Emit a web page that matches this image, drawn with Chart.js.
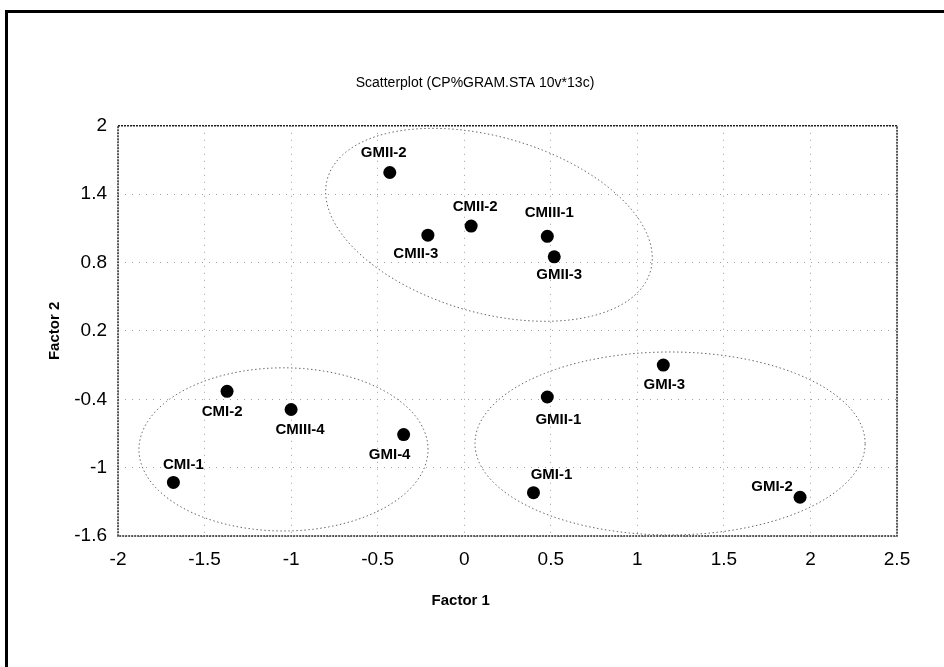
<!DOCTYPE html>
<html><head><meta charset="utf-8">
<script src="https://cdn.jsdelivr.net/npm/chart.js@4.4.1/dist/chart.umd.min.js"></script>
<style>html,body{margin:0;padding:0;background:#fff;} #wrap{width:944px;height:667px;}</style>
</head><body><div id="wrap"><canvas id="c" width="944" height="667"></canvas></div>
<script>
// ---- data ----
const pointNames = ['GMII-2','CMII-3','CMII-2','CMIII-1','GMII-3','GMI-3','GMII-1','GMI-1','GMI-2','CMI-2','CMIII-4','GMI-4','CMI-1'];
const factor1 = [-0.43,-0.21,0.04,0.48,0.52,1.15,0.48,0.40,1.94,-1.37,-1.00,-0.35,-1.68];
const factor2 = [1.59,1.04,1.12,1.03,0.85,-0.10,-0.38,-1.22,-1.26,-0.33,-0.49,-0.71,-1.13];
const xTicks = [-2,-1.5,-1,-0.5,0,0.5,1,1.5,2,2.5];
const yTicks = [-1.6,-1,-0.4,0.2,0.8,1.4,2];
// group ellipses in data units: centre, first and second semi-axis vectors
const ellipseCenters = [[0.143,1.131],[-1.044,-0.840],[1.189,-0.788]];
const ellipseAxisU = [[0.933,-0.406],[0.835,0],[1.127,0]];
const ellipseAxisV = [[-0.140,-0.743],[0,0.716],[0,0.803]];

// ---- styling (label offsets in px) ----
const labelOffsets = {
  'GMII-2':[-6,-20],'CMII-3':[-12,19],'CMII-2':[4,-19],'CMIII-1':[2,-23],'GMII-3':[5,18],
  'GMI-3':[1,20],'GMII-1':[11,23],'GMI-1':[18,-18],'GMI-2':[-28,-10],'CMI-2':[-5,21],
  'CMIII-4':[9,20],'GMI-4':[-14,20],'CMI-1':[10,-18]
};
const FAMILY = '"Liberation Sans", Arial, Helvetica, sans-serif';

const framePlugin = {
  id: 'frames',
  beforeDatasetsDraw(chart) {
    const {ctx} = chart;
    const xs = chart.scales.x, ys = chart.scales.y;
    ctx.save();
    ctx.strokeStyle = '#666';
    ctx.lineWidth = 1;
    ctx.setLineDash([1.5, 2.5]);
    for (let k = 0; k < ellipseCenters.length; k++) {
      const c = ellipseCenters[k], u = ellipseAxisU[k], v = ellipseAxisV[k];
      ctx.beginPath();
      for (let i = 0; i <= 180; i++) {
        const t = i / 180 * Math.PI * 2;
        const dx = c[0] + u[0] * Math.cos(t) + v[0] * Math.sin(t);
        const dy = c[1] + u[1] * Math.cos(t) + v[1] * Math.sin(t);
        const px = xs.getPixelForValue(dx), py = ys.getPixelForValue(dy);
        if (i === 0) ctx.moveTo(px, py); else ctx.lineTo(px, py);
      }
      ctx.closePath();
      ctx.stroke();
    }
    ctx.restore();
  },
  afterDatasetsDraw(chart) {
    const {ctx, chartArea: a} = chart;
    const meta = chart.getDatasetMeta(0);
    ctx.save();
    ctx.fillStyle = '#000';
    ctx.font = 'bold 15px ' + FAMILY;
    ctx.textAlign = 'center';
    ctx.textBaseline = 'middle';
    meta.data.forEach((el, i) => {
      const name = pointNames[i];
      const off = labelOffsets[name] || [0, -18];
      ctx.fillText(name, el.x + off[0], el.y + off[1]);
    });
    // plot frame
    ctx.strokeStyle = '#222';
    ctx.lineWidth = 1.5;
    ctx.setLineDash([2, 1]);
    ctx.strokeRect(a.left, a.top, a.right - a.left, a.bottom - a.top);
    ctx.setLineDash([]);
    // x axis title
    ctx.font = 'bold 15px ' + FAMILY;
    ctx.fillText('Factor 1', a.left + (a.right - a.left) * 0.44, 601);
    // outer frame
    ctx.lineWidth = 3;
    ctx.strokeStyle = '#000';
    ctx.strokeRect(6.5, 11.5, 1200, 1200);
    ctx.restore();
  }
};

new Chart(document.getElementById('c'), {
  type: 'scatter',
  data: {
    datasets: [{
      data: factor1.map((x, i) => ({x: x, y: factor2[i]})),
      backgroundColor: '#000',
      borderColor: '#000',
      borderWidth: 0,
      pointRadius: 6.5,
      pointHoverRadius: 6.5
    }]
  },
  options: {
    responsive: false,
    animation: false,
    devicePixelRatio: 1,
    layout: {padding: {left: 6, right: 0, top: 0, bottom: 0}},
    plugins: {
      legend: {display: false},
      tooltip: {enabled: false},
      title: {
        display: true,
        text: 'Scatterplot (CP%GRAM.STA 10v*13c)',
        color: '#000',
        font: {family: FAMILY, size: 14, weight: 'normal'},
        padding: {top: 75, bottom: 34}
      }
    },
    scales: {
      x: {
        type: 'linear', position: 'bottom', min: -2, max: 2.5,
        afterBuildTicks: s => { s.ticks = xTicks.map(v => ({value: v})); },
        afterFit: s => { s.height = 131; },
        ticks: {color: '#000', font: {family: FAMILY, size: 19}, padding: 12, maxRotation: 0, autoSkip: false,
                callback: v => String(v)},
        grid: {color: '#a0a0a0', lineWidth: 1, drawTicks: false},
        border: {display: false, dash: [1, 6]}
      },
      y: {
        type: 'linear', position: 'left', min: -1.6, max: 2,
        afterBuildTicks: s => { s.ticks = yTicks.map(v => ({value: v})); },
        afterFit: s => { s.width = 112; },
        ticks: {color: '#000', font: {family: FAMILY, size: 19}, padding: 11, autoSkip: false,
                callback: v => String(v)},
        grid: {color: '#a0a0a0', lineWidth: 1, drawTicks: false},
        border: {display: false, dash: [1, 6]},
        title: {display: true, text: 'Factor 2', color: '#000',
                font: {family: FAMILY, size: 15, weight: 'bold'}, padding: {top: 40, bottom: 0}}
      },
      y2: {
        type: 'linear', position: 'right', display: true,
        afterFit: s => { s.width = 47; },
        ticks: {display: false},
        grid: {display: false},
        border: {display: false}
      }
    }
  },
  plugins: [framePlugin]
});
</script></body></html>
